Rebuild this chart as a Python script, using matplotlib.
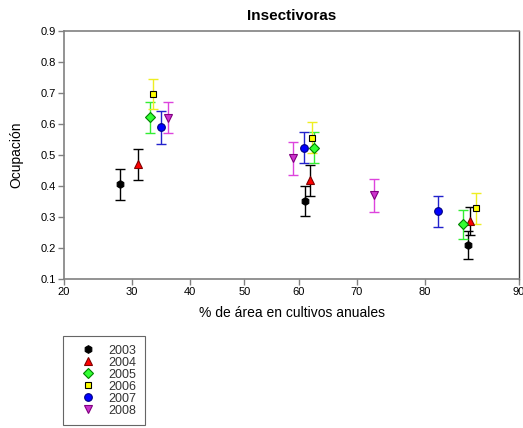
import numpy as np
import matplotlib
matplotlib.use('Agg')
import matplotlib.pyplot as plt
from statistics import NormalDist

plt.rcParams['font.family'] = ['Liberation Sans', 'DejaVu Sans']

years = ['2003', '2004', '2005', '2006', '2007', '2008']

# % area in annual crops, occupancy and error for each year (three landscapes each)
x_2003 = [28.1, 61.1, 85.2]
y_2003 = [0.405, 0.352, 0.209]
e_2003 = [0.050, 0.049, 0.046]

x_2004 = [30.9, 62.0, 85.4]
y_2004 = [0.470, 0.419, 0.286]
e_2004 = [0.051, 0.050, 0.045]

x_2005 = [33.0, 62.8, 84.6]
y_2005 = [0.622, 0.524, 0.276]
e_2005 = [0.050, 0.051, 0.048]

x_2006 = [33.5, 62.4, 86.0]
y_2006 = [0.698, 0.556, 0.328]
e_2006 = [0.048, 0.051, 0.049]

x_2007 = [34.9, 61.0, 81.7]
y_2007 = [0.589, 0.524, 0.318]
e_2007 = [0.052, 0.051, 0.050]

x_2008 = [36.1, 59.0, 72.8]
y_2008 = [0.621, 0.489, 0.370]
e_2008 = [0.051, 0.052, 0.053]

xs = [x_2003, x_2004, x_2005, x_2006, x_2007, x_2008]
ys = [y_2003, y_2004, y_2005, y_2006, y_2007, y_2008]
es = [e_2003, e_2004, e_2005, e_2006, e_2007, e_2008]

markers = ['h', '^', 'D', 's', 'o', 'v']
faces = ['black', '#ff0000', '#33ff33', '#ffff00', '#0000ff', '#cc33cc']
edges = ['black', '#800000', '#008000', 'black', '#000080', '#800080']
ecols = ['black', 'black', '#33ee33', '#eeee22', '#2222cc', '#dd44dd']
msizes = [5.5, 6, 5, 5, 5.5, 6]

# probit (normal probability) scale for the x axis
nd = NormalDist()
ppf = np.vectorize(nd.inv_cdf, otypes=[float])
cdf = np.vectorize(nd.cdf, otypes=[float])

def fwd(x):
	x = np.clip(np.asarray(x, float) / 100.0, 1e-6, 1 - 1e-6)
	return ppf(x)

def inv(y):
	return 100.0 * cdf(np.asarray(y, float))

fig = plt.figure(figsize=(5.23, 4.28), dpi=100)
ax = fig.add_axes([0.1224, 0.3481, 0.870, 0.5794])
ax.set_xscale('function', functions=(fwd, inv))

handles = []
for i in range(len(years)):
	ax.errorbar(xs[i], ys[i], yerr=es[i], fmt='none', ecolor=ecols[i],
		elinewidth=1.0, capsize=3.3, capthick=1.0, zorder=2)
	h, = ax.plot(xs[i], ys[i], linestyle='none', marker=markers[i],
		markersize=msizes[i], markerfacecolor=faces[i], markeredgecolor=edges[i],
		markeredgewidth=0.8, label=years[i], zorder=3)
	handles.append(h)

ax.set_xlim(20, 90)
ax.set_ylim(0.1, 0.9)
xt = [20, 30, 40, 50, 60, 70, 80, 90]
ax.set_xticks(xt)
ax.set_xticklabels([str(v) for v in xt])
ax.xaxis.set_minor_locator(matplotlib.ticker.NullLocator())
yt = [0.1, 0.2, 0.3, 0.4, 0.5, 0.6, 0.7, 0.8, 0.9]
ax.set_yticks(yt)
ax.set_yticklabels(['%.1f' % v for v in yt])

for s in ['left', 'bottom', 'top']:
	ax.spines[s].set_color('#808080')
	ax.spines[s].set_linewidth(1.2)
ax.spines['right'].set_color('#404040')
ax.spines['right'].set_linewidth(1.0)
ax.tick_params(axis='both', direction='out', length=4, width=1, color='#808080',
	labelsize=8, pad=2)

ax.set_title('Insectivoras', fontsize=11, fontweight='bold', pad=8)
ax.set_xlabel('% de área en cultivos anuales', fontsize=10, labelpad=6)
ax.set_ylabel('Ocupación', fontsize=10, labelpad=12)

leg = fig.legend(handles=handles, loc='upper left', bbox_to_anchor=(0.1205, 0.2150),
	fontsize=9, frameon=True, fancybox=False, edgecolor='#404040',
	handlelength=2.6, handletextpad=0.3, labelspacing=0.0, borderpad=0.7,
	borderaxespad=0.0)
leg.get_frame().set_linewidth(0.8)
for t in leg.get_texts():
	t.set_color('#333333')

fig.savefig('out.png', dpi=100)
